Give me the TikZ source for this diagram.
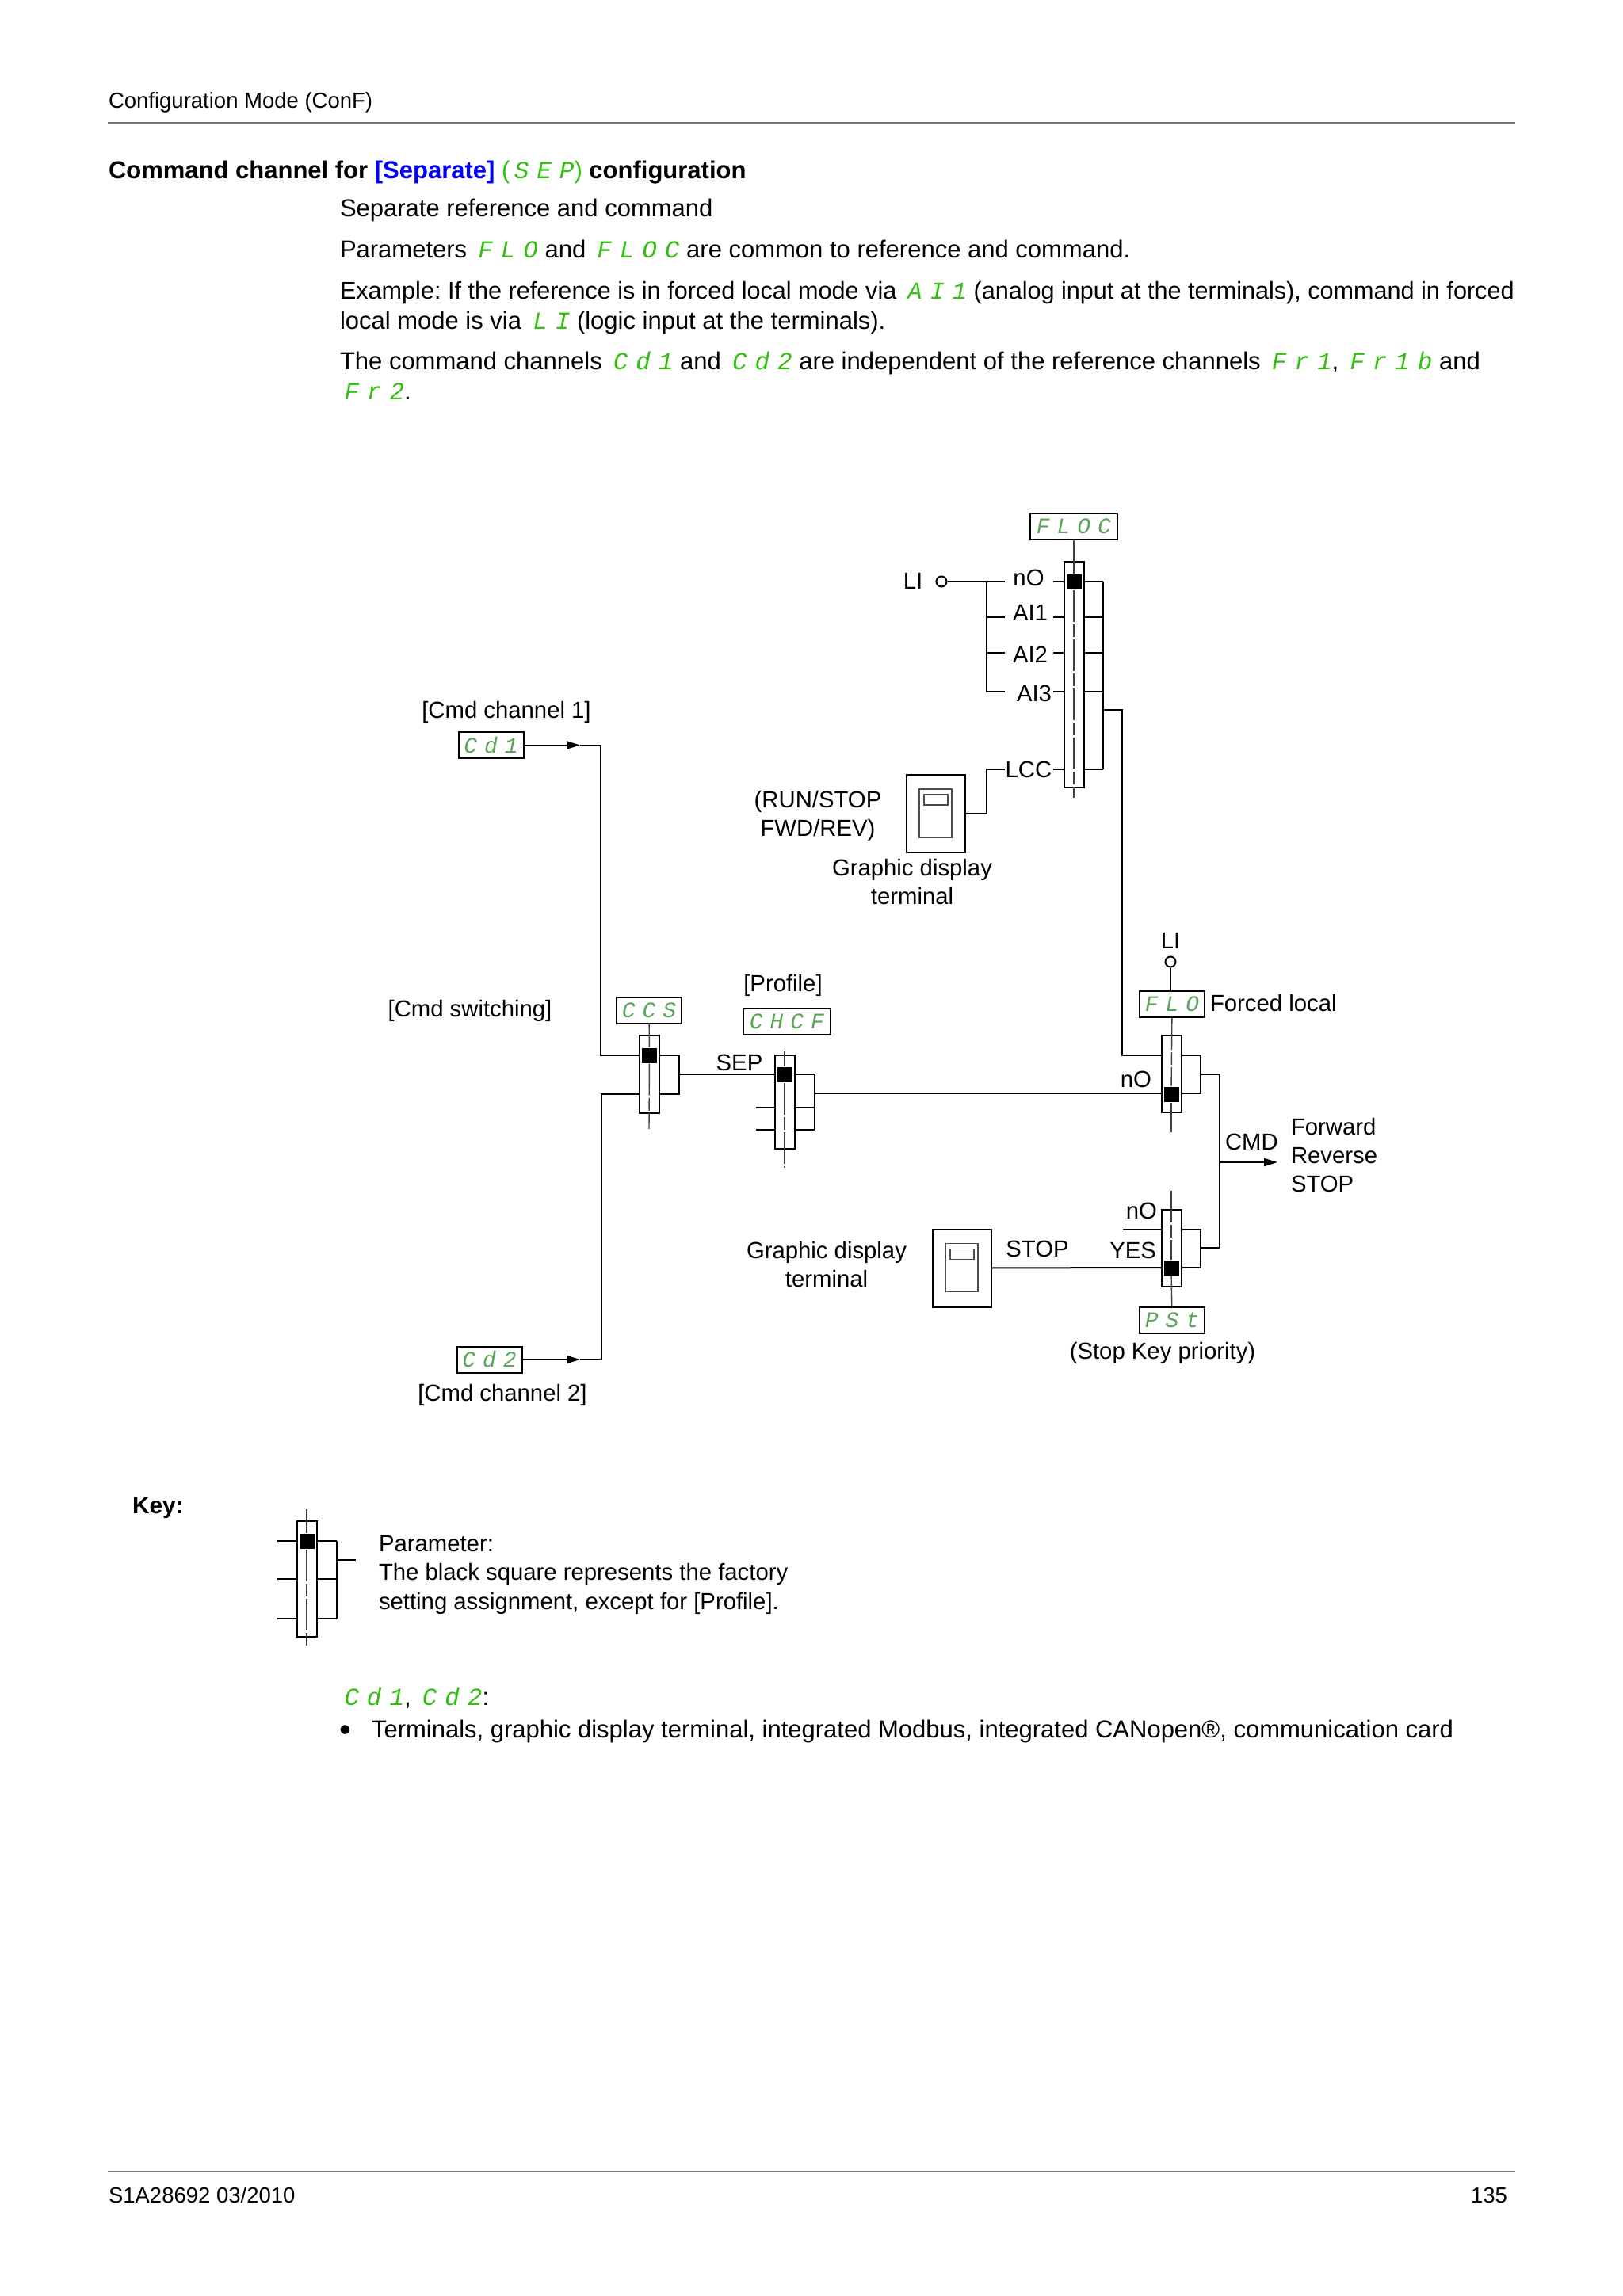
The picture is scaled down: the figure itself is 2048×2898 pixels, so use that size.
\documentclass[tikz,border=0pt]{standalone}
\usepackage{xcolor}
\usepackage{fontspec}
\setmainfont{Liberation Sans}
\newfontfamily\segfont[LetterSpace=32,UprightFont=* Italic]{Liberation Mono}
\newfontfamily\dispfont[LetterSpace=32,UprightFont=* Italic]{Liberation Mono}
\usepackage{tikz}
\usetikzlibrary{arrows.meta, positioning}
\definecolor{seggreen}{RGB}{52,190,20}
\definecolor{dispgreen}{RGB}{90,165,90}
\newcommand{\seg}[1]{\kern2.75pt{\segfont\color{seggreen}#1}}
\frenchspacing

\begin{document}
\begin{tikzpicture}[x=0.5pt, y=-0.5pt, line width=1pt, nodes={inner sep=0pt},
  pageline/.style={anchor=base west, font=\fontsize{15.5}{18}\selectfont},
  smallline/.style={anchor=base west, font=\fontsize{13.75}{16}\selectfont},
  lbl/.style={anchor=base, font=\fontsize{14.65}{18}\selectfont},
  lbll/.style={lbl, anchor=base west},
  lblr/.style={lbl, anchor=base east},
  disp/.style={draw, minimum width=41pt, minimum height=16.5pt, font=\fontsize{14}{14}\dispfont, text=dispgreen},
  dispw/.style={disp, minimum width=55pt},
  selbar/.style={draw, minimum width=12.5pt},
  knob/.style={fill=black, minimum size=9.5pt},
  axisline/.style={line width=0.7pt, black!75},
  axisdash/.style={line width=0.7pt, black!75, dash pattern=on 20pt off 1.5pt on 8pt off 1.5pt},
  terminalbox/.style={draw, minimum width=37pt, minimum height=49pt},
  terminalinner/.style={draw=black!70, line width=0.6pt, minimum width=20.5pt, minimum height=30.5pt},
  terminalscreen/.style={draw=black!70, line width=0.6pt, minimum width=15pt, minimum height=6.5pt},
  lamp/.style={draw, circle, minimum size=6.5pt},
  flow/.style={-{Triangle[length=8.5pt,width=5pt]}}]
  \useasboundingbox (0,0) rectangle (2048,2898);

  % page header and text
  \node[smallline] (title) at (136,136) {Configuration Mode (ConF)};
  \coordinate (rulea) at (136,155);
  \coordinate (ruleb) at (1912,155);
  \draw[black!55] (rulea) -- (ruleb);
  \node[pageline, font=\fontsize{15.5}{18}\selectfont\bfseries] (head) at (136,225) {Command channel for \textcolor{blue}{[Separate]} {\mdseries\textcolor{seggreen}{(}\seg{SEP}\textcolor{seggreen}{)}} configuration};
  \node[pageline] (para1) at (428,273) {Separate reference and command};
  \node[pageline] (para2) at (428,325) {Parameters \seg{FLO} and \seg{FLOC} are common to reference and command.};
  \node[pageline, font=\fontsize{15.3}{18}\selectfont] (para3) at (428,377) {Example: If the reference is in forced local mode via \seg{AI1} (analog input at the terminals), command in forced};
  \node[pageline] (para4) at (428,415) {local mode is via \seg{LI} (logic input at the terminals).};
  \node[pageline] (para5) at (428,466) {The command channels \seg{Cd1} and \seg{Cd2} are independent of the reference channels \seg{Fr1}, \seg{Fr1b} and};
  \node[pageline] (para6) at (428,504) {\seg{Fr2}.};

  % forced local reference selector
  \node[dispw] (floc) at (1355,664) {FLOC};
  \node[selbar, minimum height=142.5pt] (sela) at (1355,851.5) {};
  \node[lamp] (lia) at (1188,734) {};
  \node[lbl] (lialbl) at (1152,743) {LI};
  \node[lbl] (nolbl) at (1298,739) {nO};
  \node[lbl] (ai1lbl) at (1300,783) {AI1};
  \node[lbl] (ai2lbl) at (1300,836) {AI2};
  \node[lbl] (ai3lbl) at (1305,885) {AI3};
  \node[lbl] (lcclbl) at (1298,981) {LCC};
  \foreach \nm/\y in {no/734,ai1/779,ai2/824,ai3/873,lcc/971}{
    \coordinate (s\nm) at (1329,\y);
    \coordinate (l\nm) at (1342,\y);
    \coordinate (r\nm) at (1367,\y);
    \coordinate (b\nm) at (1392,\y);
    \draw (s\nm) -- (l\nm);
    \draw (r\nm) -- (b\nm);
  }
  \draw (bno) -- (blcc);
  \coordinate (taptop) at (1245,734);
  \coordinate (tapend) at (1268,734);
  \draw (lia) -- (tapend);
  \foreach \nm/\y in {ai1/779,ai2/824,ai3/873}{
    \coordinate (t\nm) at (1268,\y);
  }
  \draw (taptop) |- (tai1);
  \draw (taptop) |- (tai2);
  \draw (taptop) |- (tai3);
  \coordinate (axisa) at (1355,1007);
  \node[knob] (knoba) at (sela.center |- bno) {};
  \draw[axisline] (floc) -- (knoba);
  \draw[axisdash] (knoba) -- (axisa);
  \node[terminalbox] (terma) at (1181,1027) {};
  \node[terminalinner] (termain) at (1180.5,1026.5) {};
  \node[terminalscreen] (termasc) at (1181,1009.5) {};
  \coordinate (lccend) at (1268,971);
  \draw (terma) -| (lccend -| taptop) -- (lccend);
  \node[lbl] (runlbl) at (1032,1019) {(RUN/STOP};
  \node[lbl] (fwdlbl) at (1032,1055) {FWD/REV)};
  \node[lbl] (gda) at (1151,1105) {Graphic display};
  \node[lbl] (gdb) at (1151,1141) {terminal};

  % command channels
  \node[disp] (cda) at (619.5,940.5) {Cd1};
  \node[disp] (cdb) at (617.5,1716) {Cd2};
  \node[lbl] (cdalbl) at (639,906) {[Cmd channel 1]};
  \node[lbl] (cdblbl) at (634,1768) {[Cmd channel 2]};
  \node[lbl] (ccslbl) at (593,1283) {[Cmd switching]};
  \node[disp] (ccs) at (819,1275.5) {CCS};
  \node[selbar, minimum height=49pt] (selb) at (819.5,1356) {};
  \coordinate (ccsi) at (807,1332);
  \coordinate (ccsii) at (807,1381);
  \coordinate (ccso) at (832,1332);
  \coordinate (ccsoo) at (832,1381);
  \coordinate (ccsbus) at (857,1356);
  \coordinate (cdatip) at (732,940.5);
  \coordinate (cdacorner) at (758,940.5);
  \coordinate (cdbtip) at (732,1716);
  \coordinate (cdbcorner) at (759,1716);
  \draw[flow] (cda) -- (cdatip);
  \draw[flow] (cdb) -- (cdbtip);
  \draw (cdatip) -- (cdacorner) |- (ccsi);
  \draw (cdbtip) -- (cdbcorner) |- (ccsii);
  \draw (ccso) -| (ccsoo -| ccsbus) -- (ccsoo);
  \coordinate (axisb) at (819,1425);
  \node[knob] (knobb) at (819.5,1332) {};
  \draw[axisline] (ccs) -- (knobb);
  \draw[axisdash] (knobb) -- (axisb);

  % profile selector
  \node[lbl] (proflbl) at (988,1251) {[Profile]};
  \node[dispw] (chcf) at (993,1289.5) {CHCF};
  \node[lbl] (seplbl) at (933,1351) {SEP};
  \node[selbar, minimum height=59pt] (selc) at (990,1391) {};
  \coordinate (sepi) at (977,1356);
  \draw (ccsbus) -- (sepi);
  \foreach \nm/\y in {a/1356,b/1398,c/1426}{
    \coordinate (pr\nm) at (1003,\y);
    \coordinate (pb\nm) at (1028,\y);
    \draw (pr\nm) -- (pb\nm);
  }
  \coordinate (pstubb) at (954,1398);
  \coordinate (pstubc) at (954,1426);
  \coordinate (pinb) at (977,1398);
  \coordinate (pinc) at (977,1426);
  \draw (pstubb) -- (pinb);
  \draw (pstubc) -- (pinc);
  \draw (pba) -- (pbc);
  \coordinate (axiscu) at (990,1327);
  \coordinate (axisc) at (990,1474);
  \node[knob] (knobc) at (990,1356) {};
  \draw[axisline] (axiscu) -- (knobc);
  \draw[axisdash] (knobc) -- (axisc);

  % forced local selector
  \node[lamp] (lib) at (1477,1214) {};
  \node[lbl] (liblbl) at (1477,1197) {LI};
  \node[disp] (flo) at (1479,1267.5) {FLO};
  \node[lbll] (flolbl) at (1526,1276) {Forced local};
  \draw (lib) -- (lib |- flo.north);
  \node[selbar, minimum height=48.5pt] (seld) at (1478,1355.5) {};
  \coordinate (floi) at (1465,1332);
  \coordinate (floii) at (1465,1380);
  \coordinate (floo) at (1491,1332);
  \coordinate (flooo) at (1491,1380);
  \coordinate (flobus) at (1515,1356);
  \coordinate (refout) at (1392,896);
  \coordinate (refcorner) at (1416,896);
  \coordinate (cmdtop) at (1539,1356);
  \coordinate (cmdbot) at (1539,1575);
  \coordinate (cmdtap) at (1539,1467);
  \coordinate (cmdtip) at (1612,1467);
  \draw (refout) -- (refcorner) |- (floi);
  \coordinate (chcfout) at (1028,1380);
  \draw (chcfout) -- (floii);
  \draw (floo) -| (flooo -| flobus) -- (flooo);
  \draw (flobus) -- (cmdtop) -- (cmdbot);
  \draw[flow] (cmdtap) -- (cmdtip);
  \node[lblr] (nolblb) at (1454,1372) {nO};
  \coordinate (axisd) at (1478,1429);
  \node[knob] (knobd) at (1478,1381) {};
  \draw[axisdash] (flo) -- (knobd);
  \draw[axisline] (knobd) -- (axisd);
  \node[lbl, anchor=base west] (cmdlbl) at (1545,1451) {CMD};
  \node[lbll] (fwd) at (1628,1432) {Forward};
  \node[lbll] (rev) at (1628,1468) {Reverse};
  \node[lbll] (stp) at (1628,1504) {STOP};

  % stop key selector
  \node[selbar, minimum height=48.5pt] (sele) at (1478,1575.5) {};
  \node[disp] (pst) at (1479,1666.5) {PSt};
  \node[lbl] (pstlbl) at (1467,1715) {(Stop Key priority)};
  \coordinate (axiseu) at (1478,1503);
  \node[knob] (knobe) at (1478,1600) {};
  \draw[axisdash] (axiseu) -- (knobe);
  \draw[axisline] (knobe) -- (pst);
  \coordinate (stpno) at (1417,1552);
  \coordinate (stpi) at (1465,1552);
  \coordinate (stpii) at (1465,1600);
  \coordinate (stpo) at (1491,1552);
  \coordinate (stpoo) at (1491,1600);
  \coordinate (stpbus) at (1515,1575);
  \draw (stpno) -- (stpi);
  \draw (stpo) -| (stpoo -| stpbus) -- (stpoo);
  \draw (stpbus) -- (cmdbot);
  \node[lblr] (nolblc) at (1461,1538) {nO};
  \node[lblr] (yeslbl) at (1460,1588) {YES};
  \node[lbl] (stoplbl) at (1309,1586) {STOP};
  \node[terminalbox] (termb) at (1214,1600.5) {};
  \node[terminalinner] (termbin) at (1213.5,1600) {};
  \node[terminalscreen] (termbsc) at (1214,1583) {};
  \draw (termb) -- (stpii);
  \node[lbl] (gdc) at (1043,1588) {Graphic display};
  \node[lbl] (gdd) at (1043,1624) {terminal};

  % key
  \node[pageline, font=\fontsize{14.9}{18}\selectfont\bfseries] (keylbl) at (166,1910) {Key:};
  \node[selbar, minimum height=73pt] (selk) at (387,1993) {};
  \coordinate (axisku) at (387,1905);
  \coordinate (axisk) at (387,2078);
  \node[knob] (knobk) at (387,1945) {};
  \draw[axisline] (axisku) -- (knobk);
  \draw[axisdash] (knobk) -- (axisk);
  \foreach \nm/\y in {a/1945,b/1993,c/2043}{
    \coordinate (ks\nm) at (350,\y);
    \coordinate (kl\nm) at (374,\y);
    \coordinate (kr\nm) at (400,\y);
    \coordinate (kb\nm) at (425,\y);
    \draw (ks\nm) -- (kl\nm);
    \draw (kr\nm) -- (kb\nm);
  }
  \draw (kba) -- (kbc);
  \coordinate (kbus) at (425,1969);
  \coordinate (kout) at (449,1969);
  \draw (kbus) -- (kout);
  \node[lbll] (keya) at (477,1958) {Parameter:};
  \node[lbll] (keyb) at (477,1994) {The black square represents the factory};
  \node[lbll] (keyc) at (477,2031) {setting assignment, except for [Profile].};
  \node[pageline] (cdline) at (428,2152) {\seg{Cd1}, \seg{Cd2}:};
  \node[pageline, anchor=center, font=\fontsize{21}{21}\selectfont] (bullet) at (436,2188) {\textbullet};
  \node[pageline] (bullettext) at (468,2193) {Terminals, graphic display terminal, integrated Modbus, integrated CANopen®, communication card};

  % page footer
  \coordinate (footera) at (136,2741);
  \coordinate (footerb) at (1912,2741);
  \draw[black!55] (footera) -- (footerb);
  \node[smallline] (docref) at (136,2780) {S1A28692 03/2010};
  \node[smallline, anchor=base east] (pageno) at (1903,2780) {135};
\end{tikzpicture}
\end{document}
